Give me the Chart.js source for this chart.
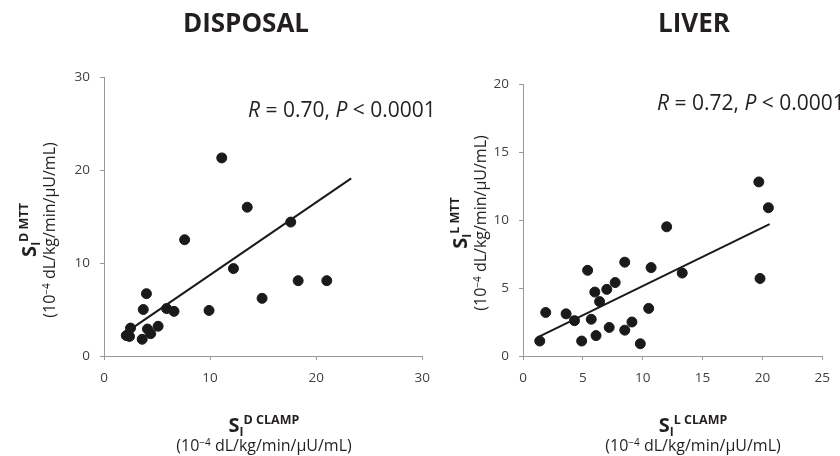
<!DOCTYPE html>
<html>
<head>
<meta charset="utf-8">
<script src="https://cdn.jsdelivr.net/npm/chart.js@4.4.1/dist/chart.umd.min.js"></script>
<style>
  html, body { margin: 0; padding: 0; background: #fff; overflow: hidden; }
  body { width: 840px; height: 456px; position: relative; font-family: 'Open Sans', sans-serif; color: #262626; }
  canvas { position: absolute; top: 0; }
  .title { position: absolute; top: 4px; font-weight: 700; font-size: 26px; text-align: center; width: 200px; color: #231f20; }
  .stat { position: absolute; font-size: 21px; white-space: nowrap; color: #231f20; }
  .axt { position: absolute; text-align: center; color: #231f20; }
  .axt .big { font-weight: 700; font-size: 20px; line-height: 22px; height: 22px; white-space: nowrap; }
  .axt .big sub { font-size: 12px; line-height: 0; vertical-align: -4px; }
  .axt .big sup { font-size: 12.5px; line-height: 0; vertical-align: 8px; }
  .axt .unit { font-size: 16px; line-height: 18px; height: 18px; white-space: nowrap; }
  .axt .unit sup { font-size: 10px; line-height: 0; vertical-align: 5px; }
  .rot { transform: rotate(-90deg); }
</style>
</head>
<body>
<canvas id="disposal" width="440" height="456" style="left:0"></canvas>
<canvas id="liver" width="400" height="456" style="left:440px"></canvas>

<div class="title" style="left:146px">DISPOSAL</div>
<div class="title" style="left:594px">LIVER</div>

<div class="stat" style="left:248px; top:95px"><i>R</i> = 0.70, <i>P</i> &lt; 0.0001</div>
<div class="stat" style="left:657px; top:88px"><i>R</i> = 0.72, <i>P</i> &lt; 0.0001</div>

<div class="axt rot" style="left:-72px; top:210px; width:220px; height:40px">
  <div class="big">S<sub>I</sub><sup>D MTT</sup></div>
  <div class="unit">(10<sup>&minus;4</sup> dL/kg/min/&mu;U/mL)</div>
</div>
<div class="axt rot" style="left:359px; top:203px; width:220px; height:40px">
  <div class="big">S<sub>I</sub><sup>L MTT</sup></div>
  <div class="unit">(10<sup>&minus;4</sup> dL/kg/min/&mu;U/mL)</div>
</div>

<div class="axt" style="left:164px; top:414px; width:200px">
  <div class="big">S<sub>I</sub><sup>D CLAMP</sup></div>
  <div class="unit">(10<sup>&minus;4</sup> dL/kg/min/&mu;U/mL)</div>
</div>
<div class="axt" style="left:593px; top:414px; width:200px">
  <div class="big">S<sub>I</sub><sup>L CLAMP</sup></div>
  <div class="unit">(10<sup>&minus;4</sup> dL/kg/min/&mu;U/mL)</div>
</div>

<script>
// disposal panel: clamp vs MTT
const disposalClamp = [11.1, 13.5, 17.6, 7.6, 12.2, 18.3, 21.0, 14.9, 4.0, 3.7, 5.9, 6.6, 9.9, 5.1, 4.1, 4.4, 2.5, 2.1, 2.4, 3.6];
const disposalMtt   = [21.3, 16.0, 14.4, 12.5, 9.4, 8.1, 8.1, 6.2, 6.7, 5.0, 5.1, 4.8, 4.9, 3.2, 2.9, 2.4, 3.0, 2.2, 2.1, 1.8];
const disposalFitX = [2.8, 23.3];
const disposalFitY = [3.1, 19.1];
const disposalTicksX = [0, 10, 20, 30];
const disposalTicksY = [0, 10, 20, 30];

// liver panel
const liverClamp = [19.7, 20.5, 12.0, 8.5, 10.7, 13.3, 19.8, 5.4, 7.7, 7.0, 6.0, 6.4, 10.5, 1.9, 3.6, 4.3, 5.7, 9.1, 7.2, 8.5, 6.1, 4.9, 1.4, 9.8];
const liverMtt   = [12.8, 10.9, 9.5, 6.9, 6.5, 6.1, 5.7, 6.3, 5.4, 4.9, 4.7, 4.0, 3.5, 3.2, 3.1, 2.6, 2.7, 2.5, 2.1, 1.9, 1.5, 1.1, 1.1, 0.9];
const liverFitX = [1.3, 20.6];
const liverFitY = [1.4, 9.7];
const liverTicksX = [0, 5, 10, 15, 20, 25];
const liverTicksY = [0, 5, 10, 15, 20];

const pts = (xs, ys) => xs.map((x, i) => ({ x, y: ys[i] }));

function makeAxis(ticks, size) {
    return {
        type: 'linear',
        min: ticks[0],
        max: ticks[ticks.length - 1],
        afterBuildTicks: (scale) => { scale.ticks = ticks.map((v) => ({ value: v })); },
        afterFit: (scale) => { if (scale.isHorizontal()) scale.height = size; else scale.width = size; },
        ticks: { color: '#404040', font: { family: 'Open Sans', size: 13.5 }, padding: 10 },
        grid: { drawOnChartArea: false, drawTicks: true, tickLength: 4, color: '#9a9a9a' },
        border: { color: '#9a9a9a', width: 1 }
    };
}

function drawPanel(id, xs, ys, fitX, fitY, ticksX, ticksY, yWidth, padding) {
    new Chart(document.getElementById(id), {
        type: 'scatter',
        data: {
            datasets: [
                {
                    data: pts(xs, ys),
                    backgroundColor: '#1a1a1a',
                    borderColor: '#1a1a1a',
                    pointRadius: 5
                },
                {
                    type: 'line',
                    data: pts(fitX, fitY),
                    borderColor: '#1a1a1a',
                    borderWidth: 2,
                    pointRadius: 0,
                    fill: false
                }
            ]
        },
        options: {
            responsive: false,
            animation: false,
            layout: { padding },
            plugins: { legend: { display: false }, tooltip: { enabled: false } },
            scales: {
                x: makeAxis(ticksX, 100),
                y: makeAxis(ticksY, yWidth)
            }
        }
    });
}

drawPanel('disposal', disposalClamp, disposalMtt, disposalFitX, disposalFitY, disposalTicksX, disposalTicksY, 104, { left: 0, right: 17, top: 77, bottom: 0 });
drawPanel('liver', liverClamp, liverMtt, liverFitX, liverFitY, liverTicksX, liverTicksY, 83, { left: 0, right: 4, top: 84, bottom: 0 });
</script>
</body>
</html>
